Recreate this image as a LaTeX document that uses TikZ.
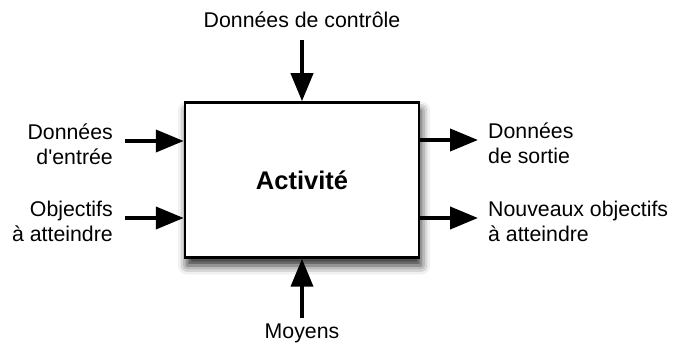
\documentclass[tikz,border=0pt]{standalone}
\usepackage{fontspec}
\setmainfont{Liberation Sans}
\usetikzlibrary{arrows.meta,positioning,shadows.blur}

\begin{document}
\begin{tikzpicture}[x=1pt, y=-1pt,
    act/.style={draw, line width=2.5pt, fill=white, minimum width=234pt,
                minimum height=155pt, font=\fontsize{25.5}{30}\selectfont\bfseries,
                blur shadow={shadow xshift=2pt, shadow yshift=-8pt,
                             shadow blur radius=9pt, shadow opacity=85}},
    lbl/.style={font=\fontsize{21.3}{25}\selectfont, inner sep=0pt},
    flow/.style={-{Triangle[length=28pt, width=22pt]}, line width=4pt}
  ]
  \useasboundingbox (0,0) rectangle (675,344);

  \node[act] (box) at (302,180) {Activité};

  \coordinate (inA) at (125,141);
  \coordinate (inB) at (125,218);
  \coordinate (outA) at (478,140);
  \coordinate (outB) at (478,218);
  \coordinate (ctl) at (302,40);
  \coordinate (res) at (302,318);

  \draw[flow] (inA) -- (inA -| box.west);
  \draw[flow] (inB) -- (inB -| box.west);
  \draw[flow] (outA -| box.east) -- (outA);
  \draw[flow] (outB -| box.east) -- (outB);
  \draw[flow] (ctl) -- (box.north);
  \draw[flow] (res) -- (box.south);

  \node[lbl, align=right, left=12pt of inA, yshift=-3pt] (inAtxt) {Données\\d\textquotesingle entrée};
  \node[lbl, align=right, left=12pt of inB, yshift=-3pt] (inBtxt) {Objectifs\\à atteindre};
  \node[lbl, align=left, right=10pt of outA, yshift=-3pt] (outAtxt) {Données\\de sortie};
  \node[lbl, align=left, right=10pt of outB, yshift=-3pt] (outBtxt) {Nouveaux objectifs\\à atteindre};
  \node[lbl, above=12pt of ctl] (ctltxt) {Données de contrôle};
  \node[lbl, below=6pt of res] (restxt) {Moyens};
\end{tikzpicture}
\end{document}
